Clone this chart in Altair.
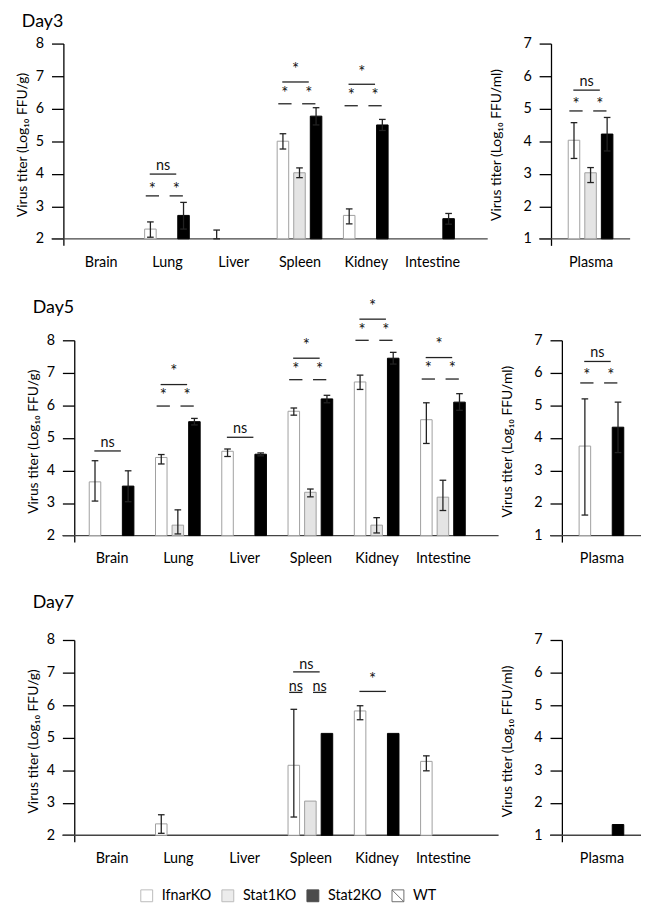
import altair as alt
import pandas as pd

FONT = "Lato"
N = None

GROUPS = ["IfnarKO", "Stat1KO", "Stat2KO", "WT"]
FILLS = ["#ffffff", "#e4e4e4", "#000000", "#ffffff"]
STROKES = ["#a0a0a0", "#a0a0a0", "#000000", "#333333"]
SHAPES = ["square", "square", "square", "M-1,-1H1V1H-1Z M-1,-1L1,1"]
TISSUES = ["Brain", "Lung", "Liver", "Spleen", "Kidney", "Intestine"]
PLASMA = ["Plasma"]

# ---------------- Day 3 : tissues (Log10 FFU/g) ----------------
d3t_ifnar_mean = [N, 2.30, N, 5.00, 2.72, N]
d3t_ifnar_lo = [N, 2.05, 2.00, 4.76, 2.46, N]
d3t_ifnar_hi = [N, 2.52, 2.27, 5.23, 2.92, N]
d3t_stat1_mean = [N, N, N, 4.03, N, N]
d3t_stat1_lo = [N, N, N, 3.88, N, N]
d3t_stat1_hi = [N, N, N, 4.18, N, N]
d3t_stat2_mean = [N, 2.72, N, 5.77, 5.50, 2.62]
d3t_stat2_lo = [N, 2.30, N, 5.50, 5.33, 2.45]
d3t_stat2_hi = [N, 3.12, N, 6.03, 5.67, 2.78]
# Day 3 : plasma (Log10 FFU/ml)
d3p_ifnar = [4.03, 3.47, 4.57]
d3p_stat1 = [3.03, 2.73, 3.19]
d3p_stat2 = [4.22, 3.70, 4.73]

# ---------------- Day 5 ----------------
d5t_ifnar_mean = [3.65, 4.40, 4.59, 5.82, 6.72, 5.56]
d5t_ifnar_lo = [3.06, 4.20, 4.43, 5.70, 6.49, 4.83]
d5t_ifnar_hi = [4.30, 4.49, 4.66, 5.92, 6.93, 6.08]
d5t_stat1_mean = [N, 2.32, N, 3.33, 2.32, 3.18]
d5t_stat1_lo = [N, 2.05, N, 3.19, 2.08, 2.77]
d5t_stat1_hi = [N, 2.79, N, 3.43, 2.55, 3.70]
d5t_stat2_mean = [3.52, 5.50, 4.50, 6.20, 7.45, 6.10]
d5t_stat2_lo = [3.04, 5.40, 4.45, 6.08, 7.27, 5.85]
d5t_stat2_hi = [3.99, 5.60, 4.54, 6.31, 7.63, 6.36]
d5p_ifnar = [3.75, 1.63, 5.20]
d5p_stat2 = [4.33, 3.55, 5.10]

# ---------------- Day 7 ----------------
d7t_ifnar_mean = [N, 2.35, N, 4.15, 5.82, 4.27]
d7t_ifnar_lo = [N, 2.06, N, 2.56, 5.55, 3.98]
d7t_ifnar_hi = [N, 2.63, N, 5.87, 5.98, 4.44]
d7t_stat1_mean = [N, N, N, 3.05, N, N]
d7t_stat2_mean = [N, N, N, 5.13, 5.13, N]
d7p_stat2 = [1.33]

# ---------------- significance annotations ----------------
# (category index, pair, label, line level, text level)
ann_d3t = [(1, "12", "*", 3.32, 3.51), (1, "23", "*", 3.32, 3.51), (1, "13", "ns", 3.99, 4.25),
           (3, "12", "*", 6.15, 6.46), (3, "23", "*", 6.15, 6.46), (3, "13", "*", 6.82, 7.18),
           (4, "12", "*", 6.09, 6.38), (4, "23", "*", 6.09, 6.38), (4, "13", "*", 6.75, 7.10)]
ann_d3p = [(0, "12", "*", 4.93, 5.11), (0, "23", "*", 4.93, 5.11), (0, "13", "ns", 5.57, 5.81)]
ann_d5t = [(0, "13", "ns", 4.60, 4.83),
           (1, "12", "*", 5.98, 6.28), (1, "23", "*", 5.98, 6.28), (1, "13", "*", 6.64, 7.02),
           (2, "13", "ns", 5.02, 5.27),
           (3, "12", "*", 6.79, 7.09), (3, "23", "*", 6.79, 7.09), (3, "13", "*", 7.45, 7.82),
           (4, "12", "*", 8.00, 8.29), (4, "23", "*", 8.00, 8.29), (4, "13", "*", 8.65, 9.03),
           (5, "12", "*", 6.81, 7.12), (5, "23", "*", 6.81, 7.12), (5, "13", "*", 7.47, 7.84)]
ann_d5p = [(0, "12", "*", 5.69, 5.89), (0, "23", "*", 5.69, 5.89), (0, "13", "ns", 6.35, 6.60)]
ann_d7t = [(3, "12", "ns", 6.39, 6.55), (3, "23", "ns", 6.39, 6.55), (3, "13", "ns", 7.02, 7.22),
           (4, "13", "*", 6.42, 6.76)]
ann_d7p = []

# ---------------- geometry helpers (category units) ----------------
GOFF = {"IfnarKO": -0.25, "Stat1KO": 0.0, "Stat2KO": 0.25}
BAR_HALF = 0.087
CAP_HALF = 0.05
PAIR = {"12": (-0.22, 0.10), "23": (0.14, 0.10), "13": (-0.06, 0.20)}


def tables(series, base, anns):
    bars, errs, lines = [], [], []
    for g, (mean, lo, hi) in series.items():
        for i, m in enumerate(mean):
            c = i + GOFF[g]
            if m is not None:
                bars.append({"group": g, "x1": c - BAR_HALF, "x2": c + BAR_HALF, "top": m, "base": base})
            if lo is not None and lo[i] is not None:
                errs.append({"cx": c, "lo": max(lo[i], base), "hi": hi[i],
                             "c1": c - CAP_HALF, "c2": c + CAP_HALF})
    for (ci, p, lab, ly, ty) in anns:
        ctr, half = PAIR[p]
        lines.append({"a": ci + ctr - half, "b": ci + ctr + half, "ly": ly,
                      "tx": ci + ctr, "ty": ty, "lab": lab})
    return pd.DataFrame(bars), pd.DataFrame(errs), pd.DataFrame(lines)


LEGEND = alt.Legend(
    orient="none", legendX=130, legendY=854, direction="horizontal", title=None,
    labelFont=FONT, labelFontSize=14.5, labelColor="black", symbolSize=144,
    symbolStrokeWidth=1, labelOffset=8, columnPadding=8,
)
FILL_SC = alt.Scale(domain=GROUPS, range=FILLS)
STROKE_SC = alt.Scale(domain=GROUPS, range=STROKES)
SHAPE_SC = alt.Scale(domain=GROUPS, range=SHAPES)


def panel(series, anns, cats, xdom, width, ymin, ymax, ytitle, title=None, toff=0, tdx=-30,
          legend_layer=False, tpad=6):
    base = ymin
    bars, errs, lines = tables(series, base, anns)
    xs = alt.Scale(domain=xdom, nice=False, zero=False)
    ys = alt.Scale(domain=[ymin - 0.2, ymax], nice=False, zero=False)
    lab_expr = "[" + ",".join("'%s'" % c for c in cats) + "][round(datum.value)]"
    xa = alt.Axis(values=list(range(len(cats))), labelExpr=lab_expr, domain=False, ticks=False,
                  grid=False, title=None, labelFont=FONT, labelFontSize=14.5, labelPadding=10,
                  labelColor="black", labelFlush=False)
    ya = alt.Axis(values=list(range(int(ymin), int(ymax) + 1)), tickSize=12, offset=-12,
                  grid=False, domainColor="black", tickColor="black", domainWidth=1.3,
                  tickWidth=1.3, labelFont=FONT, labelFontSize=14.5, labelColor="black",
                  labelPadding=8, title=ytitle, titleFont=FONT, titleFontSize=14,
                  titleFontWeight="normal", titleColor="black", titlePadding=tpad)

    def X(f):
        return alt.X(f, type="quantitative", scale=xs, axis=xa)

    def Y(f):
        return alt.Y(f, type="quantitative", scale=ys, axis=ya)

    layers = []
    if legend_layer:
        # legend-only layer: points placed outside the x domain and clipped away
        leg = pd.DataFrame({"group": GROUPS, "lx": [xdom[1] + 1] * 4, "ly": [ymin] * 4})
        layers.append(alt.Chart(leg).mark_point(clip=True, filled=True, size=20).encode(
            x=X("lx"), y=Y("ly"),
            fill=alt.Fill("group:N", scale=FILL_SC, legend=LEGEND),
            stroke=alt.Stroke("group:N", scale=STROKE_SC, legend=LEGEND),
            shape=alt.Shape("group:N", scale=SHAPE_SC, legend=LEGEND),
        ))
    layers.append(alt.Chart(pd.DataFrame({"b": [base]})).mark_rule(color="#444", strokeWidth=1.3)
                  .encode(y=Y("b")))
    layers.append(alt.Chart(bars).mark_bar(strokeWidth=1).encode(
        x=X("x1"), x2="x2", y=Y("top"), y2="base",
        fill=alt.Fill("group:N", scale=FILL_SC, legend=LEGEND),
        stroke=alt.Stroke("group:N", scale=STROKE_SC, legend=LEGEND),
    ))
    if len(errs):
        layers.append(alt.Chart(errs).mark_rule(color="#222", strokeWidth=1.3)
                      .encode(x=X("cx"), y=Y("lo"), y2="hi"))
        layers.append(alt.Chart(errs).mark_rule(color="#222", strokeWidth=1.3)
                      .encode(x=X("c1"), x2="c2", y=Y("hi")))
        layers.append(alt.Chart(errs).mark_rule(color="#222", strokeWidth=1.3)
                      .encode(x=X("c1"), x2="c2", y=Y("lo")))
    if len(lines):
        layers.append(alt.Chart(lines).mark_rule(color="#222", strokeWidth=1.3)
                      .encode(x=X("a"), x2="b", y=Y("ly")))
        layers.append(alt.Chart(lines).mark_text(font=FONT, color="#111", baseline="middle")
                      .encode(x=X("tx"), y=Y("ty"), text="lab:N",
                              size=alt.condition("datum.lab === '*'", alt.value(17), alt.value(14.5))))
    props = dict(width=width, height=204)
    if title:
        props["title"] = alt.Title(title, anchor="start", frame="group", font=FONT, fontSize=18,
                                   fontWeight="normal", color="black", dx=tdx, offset=toff)
    return alt.layer(*layers).properties(**props)


TXDOM = [-0.742, 5.84]
PXDOM = [-0.776, 0.597]
YT = "Virus titer (Log\u2081\u2080 FFU/g)"
YP = "Virus titer (Log\u2081\u2080 FFU/ml)"
PW = 92
PPAD = 20


def spacer(w):
    return alt.Chart(pd.DataFrame({"s": [0]})).mark_point(opacity=0).properties(width=w, height=10)


d3_t = panel({"IfnarKO": (d3t_ifnar_mean, d3t_ifnar_lo, d3t_ifnar_hi),
              "Stat1KO": (d3t_stat1_mean, d3t_stat1_lo, d3t_stat1_hi),
              "Stat2KO": (d3t_stat2_mean, d3t_stat2_lo, d3t_stat2_hi)},
             ann_d3t, TISSUES, TXDOM, 441, 2, 8, YT, "Day3", 5)
d3_p = panel({"IfnarKO": ([d3p_ifnar[0]], [d3p_ifnar[1]], [d3p_ifnar[2]]),
              "Stat1KO": ([d3p_stat1[0]], [d3p_stat1[1]], [d3p_stat1[2]]),
              "Stat2KO": ([d3p_stat2[0]], [d3p_stat2[1]], [d3p_stat2[2]])},
             ann_d3p, PLASMA, PXDOM, PW, 1, 7, YP, tpad=PPAD)

d5_t = panel({"IfnarKO": (d5t_ifnar_mean, d5t_ifnar_lo, d5t_ifnar_hi),
              "Stat1KO": (d5t_stat1_mean, d5t_stat1_lo, d5t_stat1_hi),
              "Stat2KO": (d5t_stat2_mean, d5t_stat2_lo, d5t_stat2_hi)},
             ann_d5t, TISSUES, TXDOM, 441, 2, 8, YT, "Day5", -19)
d5_p = panel({"IfnarKO": ([d5p_ifnar[0]], [d5p_ifnar[1]], [d5p_ifnar[2]]),
              "Stat2KO": ([d5p_stat2[0]], [d5p_stat2[1]], [d5p_stat2[2]])},
             ann_d5p, PLASMA, PXDOM, PW, 1, 7, YP, tpad=PPAD)

d7_t = panel({"IfnarKO": (d7t_ifnar_mean, d7t_ifnar_lo, d7t_ifnar_hi),
              "Stat1KO": (d7t_stat1_mean, None, None),
              "Stat2KO": (d7t_stat2_mean, None, None)},
             ann_d7t, TISSUES, TXDOM, 441, 2, 8, YT, "Day7", 20, legend_layer=True)
d7_p = panel({"Stat2KO": (d7p_stat2, None, None)},
             ann_d7p, PLASMA, PXDOM, PW, 1, 7, YP, tpad=PPAD)

row1 = alt.hconcat(spacer(1), d3_t, d3_p, spacing=0)
row2 = alt.hconcat(spacer(15), d5_t, d5_p, spacing=0)
row3 = alt.hconcat(spacer(15), d7_t, d7_p, spacing=0)

chart = alt.vconcat(row1, row2, row3, spacing=29, padding=0).configure_view(stroke=None)

chart.save("out.html", embed_options={"renderer": "svg", "actions": False})
